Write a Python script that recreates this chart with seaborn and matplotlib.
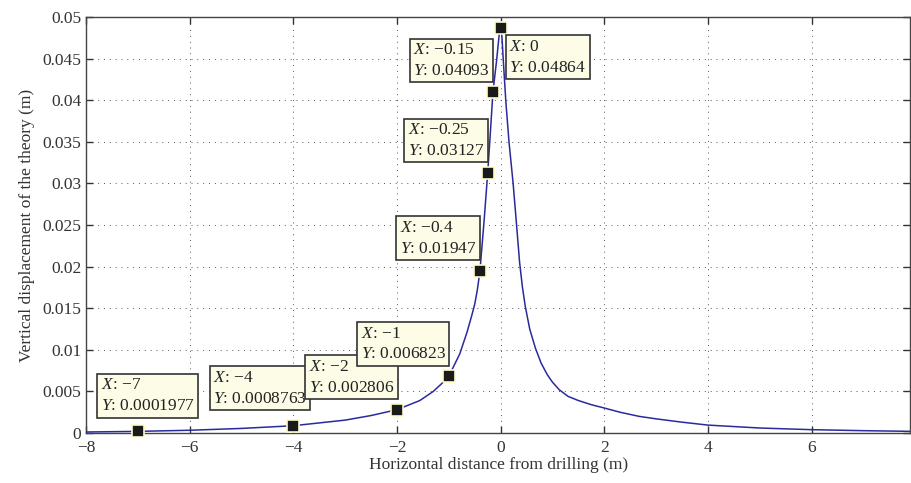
import numpy as np
import pandas as pd
import seaborn as sns
import matplotlib.pyplot as plt

# curve
curve_x = [-8, -7, -6, -5, -4, -3, -2.5, -2, -1.56, -1.3, -1.11, -1, -0.79, -0.65, -0.55, -0.5,
           -0.45, -0.4, -0.32, -0.25, -0.2, -0.15, -0.08, -0.03, 0,
           0.02, 0.06, 0.1, 0.16, 0.24, 0.3, 0.365, 0.42, 0.475, 0.56, 0.67, 0.78, 0.9, 1.0,
           1.13, 1.3, 1.5, 1.75, 2, 2.3, 2.67, 3, 3.5, 4, 5, 6, 7, 7.9]
curve_y = [0.00012, 0.0001977, 0.00033, 0.00055, 0.0008763, 0.00155, 0.0021, 0.002806, 0.0039,
           0.0050, 0.0061, 0.006823, 0.0095, 0.0121, 0.0143, 0.0155,
           0.0172, 0.01947, 0.0255, 0.03127, 0.0360, 0.04093, 0.0447, 0.0478, 0.04864,
           0.0480, 0.0438, 0.0398, 0.0350, 0.0300, 0.0255, 0.0205, 0.0175, 0.0152, 0.0125, 0.0102,
           0.0084, 0.0070, 0.0061, 0.0052, 0.0044, 0.0039, 0.0034, 0.0030, 0.0025, 0.0020, 0.0017,
           0.0013, 0.00095, 0.0006, 0.0004, 0.00028, 0.0002]

# data tips
tip_x = [-7, -4, -2, -1, -0.4, -0.25, -0.15, 0]
tip_y = [0.0001977, 0.0008763, 0.002806, 0.006823, 0.01947, 0.03127, 0.04093, 0.04864]
tip_xlab = ['\u22127', '\u22124', '\u22122', '\u22121', '\u22120.4', '\u22120.25', '\u22120.15', '0']
tip_ylab = ['0.0001977', '0.0008763', '0.002806', '0.006823', '0.01947', '0.03127', '0.04093', '0.04864']
# upper-left corner of each tip box
box_x = [-7.72, -5.55, -3.70, -2.70, -1.95, -1.79, -1.69, 0.16]
box_y = [0.00670, 0.00760, 0.0089, 0.0129, 0.0256, 0.03735, 0.04697, 0.04736]

xticks = [-8, -6, -4, -2, 0, 2, 4, 6]
yticks = [0, 0.005, 0.01, 0.015, 0.02, 0.025, 0.03, 0.035, 0.04, 0.045, 0.05]

sns.set_style('ticks')
plt.rcParams['font.family'] = ['Liberation Serif', 'DejaVu Serif']
plt.rcParams['mathtext.fontset'] = 'custom'
plt.rcParams['mathtext.it'] = 'Liberation Serif:italic'
plt.rcParams['mathtext.rm'] = 'Liberation Serif'

fig = plt.figure(figsize=(9.12, 4.83), dpi=100)
ax = fig.add_axes([0.0943, 0.1035, 0.9037, 0.8615])

df = pd.DataFrame({'x': curve_x, 'y': curve_y})
sns.lineplot(data=df, x='x', y='y', ax=ax, color='#2a2a9c', linewidth=1.1, zorder=3)

tips = pd.DataFrame({'x': tip_x, 'y': tip_y})
sns.scatterplot(data=tips, x='x', y='y', ax=ax, marker='s', s=70, color='#1a1a1a',
                edgecolor='#fffbc8', linewidth=1.2, zorder=5, clip_on=False)

for bx, by, xl, yl in zip(box_x, box_y, tip_xlab, tip_ylab):
    ax.text(bx, by, '$\\mathit{X}$: ' + xl + '\n$\\mathit{Y}$: ' + yl, ha='left', va='top',
            fontsize=12.5, color='#222222', linespacing=1.4, zorder=6,
            bbox=dict(boxstyle='square,pad=0.2', facecolor='#fdfce6', edgecolor='#333333', linewidth=1.2))

ax.set_xlim(-8, 7.9)
ax.set_ylim(0, 0.05)
ax.set_xticks(xticks)
ax.set_xticklabels([str(t).replace('-', '\u2212') for t in xticks])
ax.set_yticks(yticks)
ax.set_yticklabels(['0'] + ['%g' % t for t in yticks[1:]])
ax.grid(True, linestyle=(0, (1, 5)), color='#555555', linewidth=0.7)
ax.tick_params(direction='in', top=True, right=True, length=5, width=1, labelsize=12.5, colors='#333333')
ax.tick_params(axis='x', pad=5)
for s in ax.spines.values():
    s.set_visible(True)
    s.set_color('#444444')
    s.set_linewidth(1.0)

ax.set_xlabel('Horizontal distance from drilling (m)', fontsize=12.5, color='#333333', labelpad=1)
ax.set_ylabel('Vertical displacement of the theory (m)', fontsize=12.5, color='#333333', labelpad=5)

fig.savefig('out.png', dpi=100)
